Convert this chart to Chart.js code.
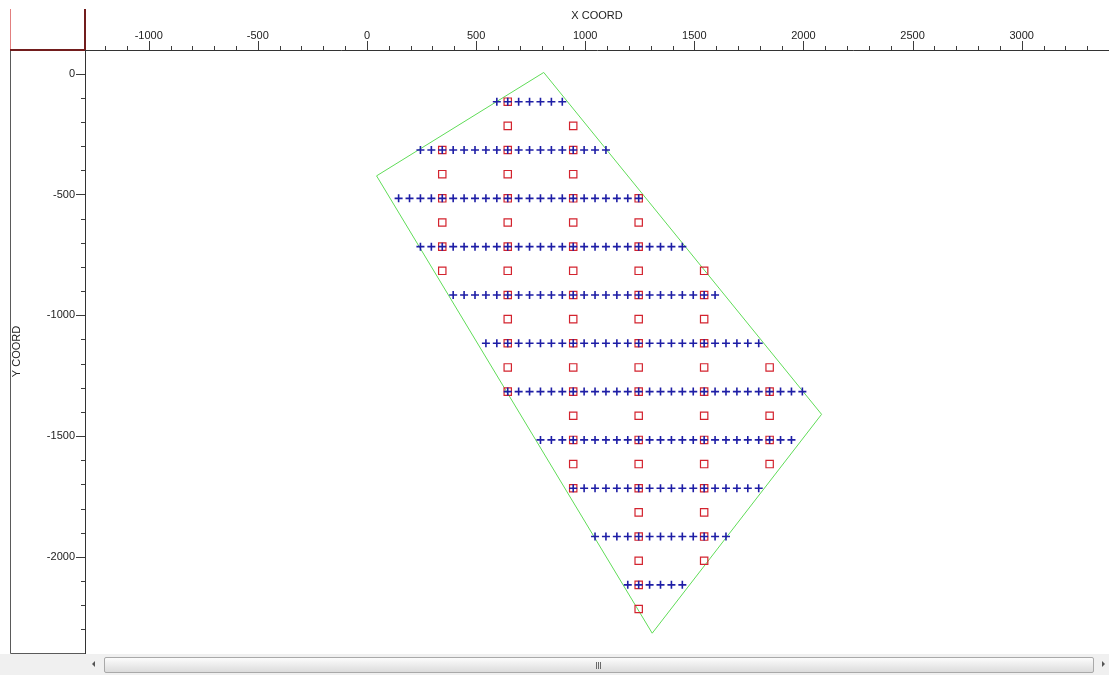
<!DOCTYPE html>
<html>
<head>
<meta charset="utf-8">
<title>Survey layout</title>
<script src="https://cdn.jsdelivr.net/npm/chart.js@4.4.1/dist/chart.umd.min.js"></script>
<style>
    html, body { margin: 0; padding: 0; background: #fff; overflow: hidden; }
    #wrap { position: relative; width: 1109px; height: 654px; }
    #scrollbar { position: relative; width: 1109px; height: 21px; background: #f0f0f0; }
    #scrollbar .thumb {
        position: absolute; left: 104px; top: 3px; width: 988px; height: 14px;
        border: 1px solid #a9a9a9; border-radius: 2px;
        background: linear-gradient(#fcfcfc, #ececec 50%, #dcdcdc);
    }
    #scrollbar .grip {
        position: absolute; left: 491px; top: 4px; width: 6px; height: 7px;
        background: repeating-linear-gradient(90deg, #6a6a6a 0 1px, transparent 1px 2px);
    }
    #scrollbar .arrow { position: absolute; top: 7px; width: 0; height: 0;
        border-top: 3px solid transparent; border-bottom: 3px solid transparent; }
    #scrollbar .left { left: 92px; border-right: 3px solid #555; }
    #scrollbar .right { left: 1102px; border-left: 3px solid #555; }
</style>
</head>
<body>
<div id="wrap"><canvas id="layoutChart"></canvas></div>
<div id="scrollbar">
    <div class="arrow left"></div>
    <div class="thumb"><div class="grip"></div></div>
    <div class="arrow right"></div>
</div>
<script>
// receiver lines (blue +), one row every 200 in Y
var crossRowY = [-116, -316, -516, -716, -916, -1116, -1316, -1516, -1716, -1916, -2116];
var crossRowX = [
    [595, 645, 695, 745, 795, 845, 895],
    [245, 295, 345, 395, 445, 495, 545, 595, 645, 695, 745, 795, 845, 895, 945, 995, 1045, 1095],
    [145, 195, 245, 295, 345, 395, 445, 495, 545, 595, 645, 695, 745, 795, 845, 895, 945, 995, 1045, 1095, 1145, 1195, 1245],
    [245, 295, 345, 395, 445, 495, 545, 595, 645, 695, 745, 795, 845, 895, 945, 995, 1045, 1095, 1145, 1195, 1245, 1295, 1345, 1395, 1445],
    [395, 445, 495, 545, 595, 645, 695, 745, 795, 845, 895, 945, 995, 1045, 1095, 1145, 1195, 1245, 1295, 1345, 1395, 1445, 1495, 1545, 1595],
    [545, 595, 645, 695, 745, 795, 845, 895, 945, 995, 1045, 1095, 1145, 1195, 1245, 1295, 1345, 1395, 1445, 1495, 1545, 1595, 1645, 1695, 1745, 1795],
    [645, 695, 745, 795, 845, 895, 945, 995, 1045, 1095, 1145, 1195, 1245, 1295, 1345, 1395, 1445, 1495, 1545, 1595, 1645, 1695, 1745, 1795, 1845, 1895, 1945, 1995],
    [795, 845, 895, 945, 995, 1045, 1095, 1145, 1195, 1245, 1295, 1345, 1395, 1445, 1495, 1545, 1595, 1645, 1695, 1745, 1795, 1845, 1895, 1945],
    [945, 995, 1045, 1095, 1145, 1195, 1245, 1295, 1345, 1395, 1445, 1495, 1545, 1595, 1645, 1695, 1745, 1795],
    [1045, 1095, 1145, 1195, 1245, 1295, 1345, 1395, 1445, 1495, 1545, 1595, 1645],
    [1195, 1245, 1295, 1345, 1395, 1445]
];

// source points (red squares), one row every 100 in Y
var squareRowY = [-116, -216, -316, -416, -516, -616, -716, -816, -916, -1016, -1116,
    -1216, -1316, -1416, -1516, -1616, -1716, -1816, -1916, -2016, -2116, -2216];
var squareRowX = [
    [645],
    [645, 945],
    [345, 645, 945],
    [345, 645, 945],
    [345, 645, 945, 1245],
    [345, 645, 945, 1245],
    [345, 645, 945, 1245],
    [345, 645, 945, 1245, 1545],
    [645, 945, 1245, 1545],
    [645, 945, 1245, 1545],
    [645, 945, 1245, 1545],
    [645, 945, 1245, 1545, 1845],
    [645, 945, 1245, 1545, 1845],
    [945, 1245, 1545, 1845],
    [945, 1245, 1545, 1845],
    [945, 1245, 1545, 1845],
    [945, 1245, 1545],
    [1245, 1545],
    [1245, 1545],
    [1245, 1545],
    [1245],
    [1245]
];

// survey outline
var boundaryX = [810, 2083, 1307, 44, 810];
var boundaryY = [5, -1410, -2316, -423, 5];

// labelled ticks, minor ticks every 100
var xTickLabels = [-1000, -500, 0, 500, 1000, 1500, 2000, 2500, 3000];
var yTickLabels = [0, -500, -1000, -1500, -2000];
var minorStep = 100;

function rowsToPoints(ys, xs) {
    var pts = [];
    ys.forEach(function(y, i) {
        xs[i].forEach(function(x) { pts.push({ x: x, y: y }); });
    });
    return pts;
}

function stepTicks(scale) {
    var out = [];
    for (var v = Math.ceil(scale.min / minorStep) * minorStep; v < scale.max; v += minorStep) {
        out.push({ value: v });
    }
    scale.ticks = out;
}

// frame boxes on the left and the tick marks (long at labelled values)
var framePlugin = {
    id: 'frame',
    beforeDraw: function(chart) {
        var ctx = chart.ctx, a = chart.chartArea;
        ctx.save();
        ctx.lineWidth = 1;
        ctx.strokeStyle = '#5a5a5a';
        ctx.beginPath();
        ctx.moveTo(10.5, a.top);
        ctx.lineTo(10.5, a.bottom + 0.5);
        ctx.lineTo(a.left, a.bottom + 0.5);
        ctx.stroke();

        ctx.strokeStyle = '#e27f7f';
        ctx.beginPath();
        ctx.moveTo(10.5, 9);
        ctx.lineTo(10.5, a.top);
        ctx.stroke();

        ctx.strokeStyle = '#721d1d';
        ctx.lineWidth = 2;
        ctx.beginPath();
        ctx.moveTo(a.left, 9);
        ctx.lineTo(a.left, a.top + 1);
        ctx.moveTo(10, a.top);
        ctx.lineTo(a.left, a.top);
        ctx.stroke();
        ctx.restore();
    },
    afterDraw: function(chart) {
        var ctx = chart.ctx, a = chart.chartArea;
        var xs = chart.scales.x, ys = chart.scales.y;
        ctx.save();
        ctx.strokeStyle = '#3c3c3c';
        ctx.lineWidth = 1;
        ctx.beginPath();
        xs.ticks.forEach(function(t) {
            var px = Math.round(xs.getPixelForValue(t.value)) + 0.5;
            var len = xTickLabels.indexOf(t.value) >= 0 ? 9 : 4;
            ctx.moveTo(px, a.top);
            ctx.lineTo(px, a.top - len);
        });
        ys.ticks.forEach(function(t) {
            var py = Math.round(ys.getPixelForValue(t.value)) + 0.5;
            var len = yTickLabels.indexOf(t.value) >= 0 ? 9 : 4;
            ctx.moveTo(a.left, py);
            ctx.lineTo(a.left - len, py);
        });
        ctx.stroke();
        ctx.restore();
    }
};

Chart.defaults.font.family = '"Liberation Sans", Arial, sans-serif';
Chart.defaults.font.size = 11;
Chart.defaults.color = '#222';

new Chart(document.getElementById('layoutChart'), {
    type: 'scatter',
    data: {
        datasets: [{
            label: 'receivers',
            data: rowsToPoints(crossRowY, crossRowX),
            pointStyle: 'cross',
            pointRadius: 4,
            borderColor: '#1e1ea6',
            borderWidth: 1.6,
            order: 1
        }, {
            label: 'sources',
            data: rowsToPoints(squareRowY, squareRowX),
            pointStyle: 'rect',
            pointRadius: 5.2,
            borderColor: '#d3232e',
            backgroundColor: 'rgba(0,0,0,0)',
            borderWidth: 1.2,
            order: 2
        }, {
            label: 'outline',
            data: boundaryX.map(function(x, i) { return { x: x, y: boundaryY[i] }; }),
            showLine: true,
            pointRadius: 0,
            borderColor: '#5fdc57',
            borderWidth: 1,
            order: 3
        }]
    },
    options: {
        responsive: true,
        maintainAspectRatio: false,
        animation: false,
        events: [],
        layout: { autoPadding: false, padding: { left: 0, right: 0, top: 0, bottom: 1 } },
        plugins: {
            legend: { display: false },
            tooltip: { enabled: false }
        },
        scales: {
            x: {
                type: 'linear',
                position: 'top',
                min: -1292,
                max: 3400,
                afterBuildTicks: stepTicks,
                afterFit: function(scale) {
                    scale.height = 50;
                    scale.paddingLeft = 0;
                    scale.paddingRight = 0;
                },
                grid: { display: true, drawOnChartArea: false, drawTicks: false },
                border: { display: true, color: '#333', width: 1 },
                ticks: {
                    autoSkip: false,
                    maxRotation: 0,
                    padding: 7,
                    color: '#222',
                    callback: function(v) { return xTickLabels.indexOf(v) >= 0 ? String(v) : ''; }
                },
                title: {
                    display: true,
                    text: 'X COORD',
                    color: '#222',
                    font: { size: 11 },
                    padding: { top: 9, bottom: 0 }
                }
            },
            y: {
                type: 'linear',
                position: 'left',
                min: -2398,
                max: 98,
                afterBuildTicks: stepTicks,
                afterFit: function(scale) {
                    scale.width = 85;
                    scale.paddingTop = 0;
                    scale.paddingBottom = 0;
                },
                grid: { display: true, drawOnChartArea: false, drawTicks: false },
                border: { display: true, color: '#333', width: 1 },
                ticks: {
                    autoSkip: false,
                    padding: 10,
                    color: '#222',
                    callback: function(v) { return yTickLabels.indexOf(v) >= 0 ? String(v) : ''; }
                },
                title: {
                    display: true,
                    text: 'Y COORD',
                    color: '#222',
                    font: { size: 11 },
                    padding: { top: 10, bottom: 0 }
                }
            }
        }
    },
    plugins: [framePlugin]
});
</script>
</body>
</html>
